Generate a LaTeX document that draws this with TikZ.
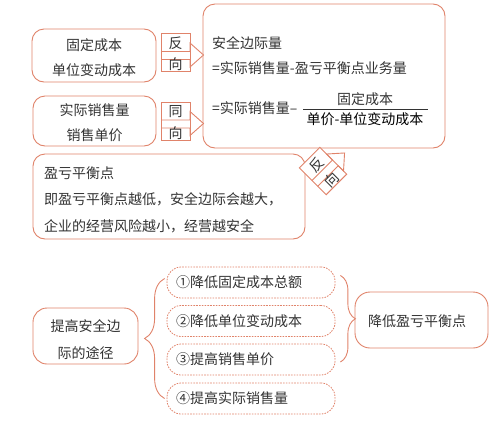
\documentclass[tikz,border=0pt]{standalone}
\usepackage{fontspec}
\setmainfont{Noto Sans CJK SC}
\usetikzlibrary{decorations.pathreplacing}
\definecolor{ln}{HTML}{E0836A}
\definecolor{tx}{HTML}{333333}
\tikzset{
  box/.style={draw=ln, line width=0.9pt, rounded corners=12pt, inner sep=0pt, fill=white},
  txt/.style={text=tx, font=\fontsize{14}{25}\selectfont, inner sep=0pt, align=center},
  dbox/.style={draw=ln, line width=0.8pt, dash pattern=on 1.6pt off 1.2pt, rounded corners=14pt,
    minimum height=31pt, text width=150pt, inner xsep=9pt, inner ysep=0pt, align=left,
    text=tx, font=\fontsize{14}{18}\selectfont},
  bracelink/.style={draw=ln, line width=0.9pt, decorate},
  pics/dirarrow/.style 2 args={code={
    \path[fill=white] (-14.5,-1) -- (14.5,-1) -- (14.5,-9.5) -- (28,2.5) -- (14.5,14.5) -- (14.5,7) -- (-14.5,7) -- cycle;
    \node[draw=ln, line width=0.9pt, fill=white, minimum width=29pt, minimum height=38pt, inner sep=0pt, transform shape] (-box) at (0,0) {};
    \draw[ln, line width=0.9pt] (-14.5,-1) -- (14.5,-1) -- (14.5,-9.5) -- (28,2.5) -- (14.5,14.5) -- (14.5,7) -- (-14.5,7);
    \node[txt, transform shape] (-ta) at (0,-9) {#1};
    \node[txt, transform shape] (-tb) at (0,12) {#2};
  }}
}
\begin{document}
\begin{tikzpicture}[x=1pt,y=-1pt]
\useasboundingbox (0,0) rectangle (500,426);

% top section
\node[box, minimum width=124pt, minimum height=53pt] (a) at (94,55.5) {};
\node[txt] (atext) at (94,57.5) {固定成本\\单位变动成本};
\node[box, minimum width=123pt, minimum height=50pt] (b) at (94.5,121) {};
\node[txt] (btext) at (94.5,123) {实际销售量\\销售单价};
\node[box, minimum width=242pt, minimum height=144pt] (c) at (324,76) {};
\node[txt, anchor=west] (c1) at (212,43) {安全边际量};
\node[txt, anchor=west] (c2) at (212,68) {=实际销售量-盈亏平衡点业务量};
\node[txt, anchor=west] (c3) at (212,108) {=实际销售量–};
\node[txt] (num) at (365,99) {固定成本};
\node[txt, text=black] (den) at (365,119) {单价-单位变动成本};
\draw[tx, line width=0.8pt] (303,109) -- (428,109);

\node[box, minimum width=272pt, minimum height=85pt] (d) at (169,196.5) {};
\node[txt, align=left, anchor=west, font=\fontsize{14}{26.5}\selectfont] (dtext) at (44,199.5)
  {盈亏平衡点\\即盈亏平衡点越低，安全边际会越大，\\企业的经营风险越小，经营越安全};

\pic (g1) at (175.5,52.5) {dirarrow={反}{向}};
\pic (g2) at (175.5,121) {dirarrow={同}{向}};
\pic[rotate=45] (g3) at (323,171) {dirarrow={反}{向}};

% bottom section
\node[box, minimum width=105pt, minimum height=56pt, rounded corners=14pt] (e) at (85.5,336) {};
\node[txt, font=\fontsize{14}{27}\selectfont] (etext) at (85.5,339.5) {提高安全边\\际的途径};
\node[dbox] (b1) at (251,282.5) {①降低固定成本总额};
\node[dbox] (b2) at (251,321) {②降低单位变动成本};
\node[dbox] (b3) at (251,359.5) {③提高销售单价};
\node[dbox] (b4) at (251,398.5) {④提高实际销售量};
\node[box, minimum width=133pt, minimum height=56pt, rounded corners=15pt] (f) at (421.5,320) {};
\node[txt] (ftext) at (417,321) {降低盈亏平衡点};

\draw[bracelink, decoration={brace, amplitude=20pt}] ([xshift=-2pt]b4.west) -- ([xshift=-2pt,yshift=4pt]b1.west);
\draw[bracelink, decoration={brace, amplitude=15pt}] ([xshift=5pt,yshift=7pt]b1.east) -- ([xshift=5pt,yshift=-2.5pt]b3.east);
\end{tikzpicture}
\end{document}
